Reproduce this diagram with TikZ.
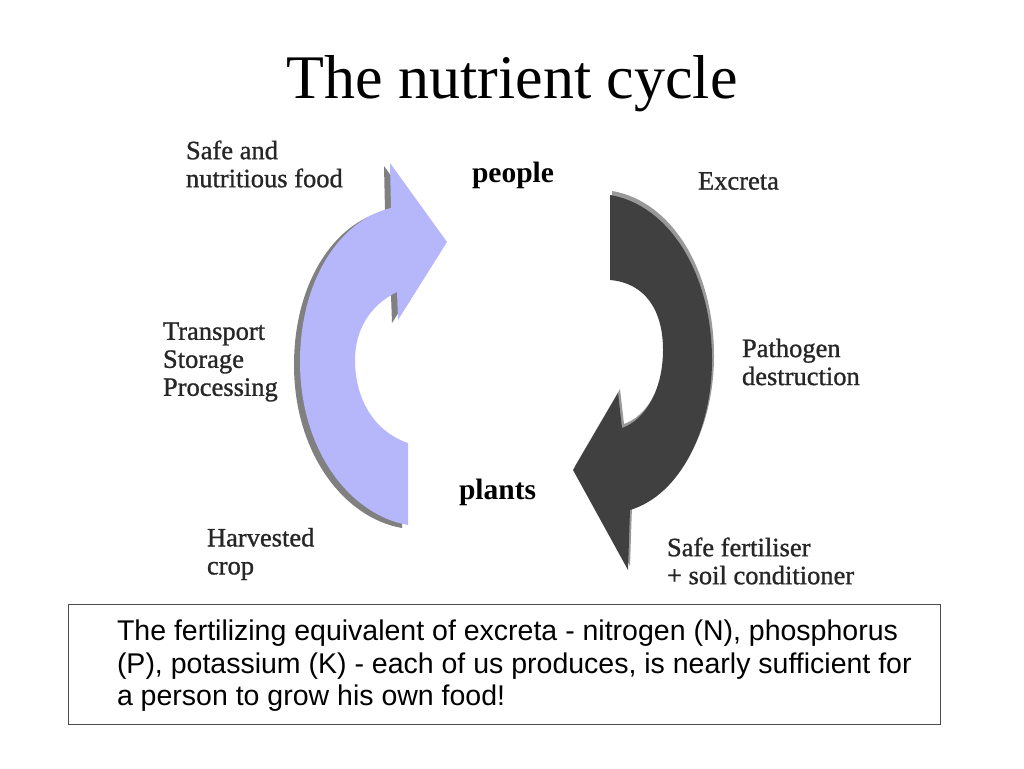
\documentclass[tikz,border=0pt]{standalone}
\usepackage{fontspec}
\setmainfont{Liberation Serif}
\newfontfamily\lblfont[FakeBold=1]{Liberation Serif}
\newfontfamily\notefont{Liberation Sans}
\usetikzlibrary{positioning}
\definecolor{foodblue}{RGB}{182,182,250}
\definecolor{wastegray}{RGB}{64,64,64}
\newcommand{\foodarrow}{(408,525) .. controls (350,515) and (300,450) .. (300,362)
  .. controls (300,280) and (340,220) .. (391,208) -- (390,163) -- (447,242)
  -- (398,320) -- (397,292) .. controls (370,305) and (355,330) .. (355,360)
  .. controls (355,400) and (375,432) .. (408,443) -- cycle}
\newcommand{\wastearrow}{(610,195) .. controls (670,205) and (712,275) .. (712,360)
  .. controls (712,430) and (680,495) .. (630,510) -- (628,570) -- (573,470)
  -- (618,393) -- (622,428) .. controls (645,420) and (663,390) .. (663,350)
  .. controls (663,310) and (645,283) .. (610,280) -- cycle}
\begin{document}
\begin{tikzpicture}[x=1pt,y=-1pt]
                        \tikzstyle{every node}=[inner sep=0,outer sep=0]
                        \tikzstyle{lbl}=[anchor=west,align=left,text=black!85,font=\lblfont\fontsize{26.5}{28}\selectfont]
                        \tikzstyle{hub}=[anchor=west,font=\fontsize{29.5}{30}\selectfont\bfseries]
                        \tikzstyle{notebox}=[draw=black!70,line width=1,minimum width=872,minimum height=120]
                        {
                            \useasboundingbox (0,0) rectangle (1024,768);
                            \node[font=\fontsize{62}{64}\selectfont] (title) at (512,84) {The nutrient cycle};

                            % arrows with their shadows
                            \fill[black!50,shift={(-6,3)}] \foodarrow;
                            \fill[foodblue] \foodarrow;
                            \fill[black!40,shift={(2,-4)}] \wastearrow;
                            \fill[wastegray] \wastearrow;

                            \node[hub] (people) at (472,175) {people};
                            \node[hub] (plants) at (459,492) {plants};
                            \node[lbl] (food) at (186,164) {Safe and\\nutritious food};
                            \node[lbl] (excreta) at (698,181) {Excreta};
                            \node[lbl] (transport) at (163,362) {Transport\\Storage\\Processing};
                            \node[lbl] (pathogen) at (742,362) {Pathogen\\destruction};
                            \node[lbl] (harvest) at (207,554) {Harvested\\crop};
                            \node[lbl] (fertiliser) at (667,561) {Safe fertiliser\\+ soil conditioner};

                            \node[notebox] (note) at (504,664) {};
                            \node[anchor=west,align=left,font=\notefont\fontsize{28.5}{32.5}\selectfont]
                                (notetext) at ([xshift=49,yshift=-2]note.west)
                                {The fertilizing equivalent of excreta - nitrogen (N), phosphorus\\
                                 (P), potassium (K) - each of us produces, is nearly sufficient for\\
                                 a person to grow his own food!};
                        }
                    \end{tikzpicture}
\end{document}
